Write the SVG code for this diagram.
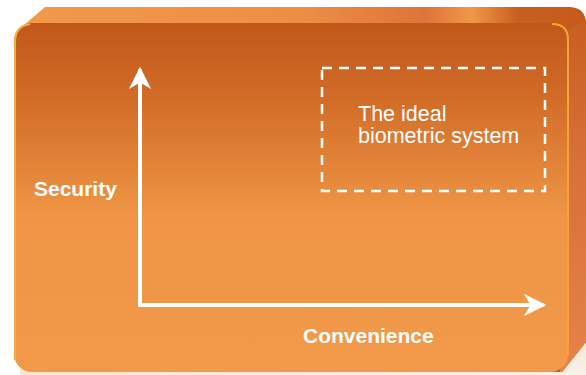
<svg xmlns="http://www.w3.org/2000/svg" width="586" height="375" viewBox="0 0 586 375">
  <defs>
    <linearGradient id="face" x1="0" y1="0" x2="0" y2="1">
      <stop offset="0" stop-color="#C15819"/>
      <stop offset="0.2" stop-color="#D06A26"/>
      <stop offset="0.55" stop-color="#EF9545"/>
      <stop offset="1" stop-color="#F29A4A"/>
    </linearGradient>
    <linearGradient id="top" x1="0" y1="0" x2="1" y2="0">
      <stop offset="0" stop-color="#F2994A"/>
      <stop offset="0.5" stop-color="#EE8E45"/>
      <stop offset="0.72" stop-color="#DE7439"/>
      <stop offset="0.8" stop-color="#F09848"/>
      <stop offset="0.88" stop-color="#C85F20"/>
      <stop offset="1" stop-color="#C65A1C"/>
    </linearGradient>
    <linearGradient id="side" x1="0" y1="0" x2="0" y2="1">
      <stop offset="0" stop-color="#C85E1F"/>
      <stop offset="0.4" stop-color="#D8703A"/>
      <stop offset="1" stop-color="#E4834A"/>
    </linearGradient>
    <linearGradient id="shadow" x1="0" y1="0" x2="1" y2="1">
      <stop offset="0" stop-color="#F2DCC8"/>
      <stop offset="1" stop-color="#FAF1E8"/>
    </linearGradient>
    <marker id="ah" viewBox="0 0 10 10" refX="9" refY="5" markerWidth="7" markerHeight="5.6" markerUnits="strokeWidth" orient="auto">
      <path d="M0,0 L10,5 L0,10 L3,5 Z" fill="#FFFFFF"/>
    </marker>
    <style>
      .lbl{font-family:"Liberation Sans",Arial,sans-serif;fill:#FFFFFF;}
      .bold{font-weight:bold;font-size:21px;}
      .reg{font-size:21.5px;}
      .axis{stroke:#FFFFFF;stroke-width:4;fill:none;}
    </style>
  </defs>

  <g id="box">
    <path d="M20,368 L560,368 L586,340 L586,375 L20,375 Z" fill="url(#shadow)"/>
    <path d="M14,44 L16,32 L45,7 L570,7 Q586,8 586,24 L586,342 L562,372 L30,372 Z" fill="url(#top)"/>
    <path d="M568,30 L586,20 L586,342 L562,372 L560,372 Z" fill="url(#side)"/>
    <rect x="14" y="23" width="554" height="349" rx="18" fill="url(#face)"/>
    <path d="M552,24 Q568,24 568,40 L568,356" fill="none" stroke="#F5A238" stroke-width="2"/>
    <path d="M15,360 L15,42 Q15,26 30,24" fill="none" stroke="#F7B040" stroke-width="2"/>
  </g>

  <g id="connectors">
    <line class="axis" x1="140" y1="307" x2="140" y2="69" marker-end="url(#ah)"/>
    <line class="axis" x1="138" y1="305" x2="544" y2="305" marker-end="url(#ah)"/>
  </g>

  <g id="ideal">
    <rect x="322" y="68" width="223" height="123" fill="none" stroke="#FFFFFF" stroke-width="2.5" stroke-dasharray="10,7"/>
    <text class="lbl reg" x="358" y="121">The ideal</text>
    <text class="lbl reg" x="358" y="143">biometric system</text>
  </g>

  <g id="security">
    <text class="lbl bold" x="34" y="196">Security</text>
  </g>
  <g id="convenience">
    <text class="lbl bold" x="303" y="343">Convenience</text>
  </g>
</svg>
